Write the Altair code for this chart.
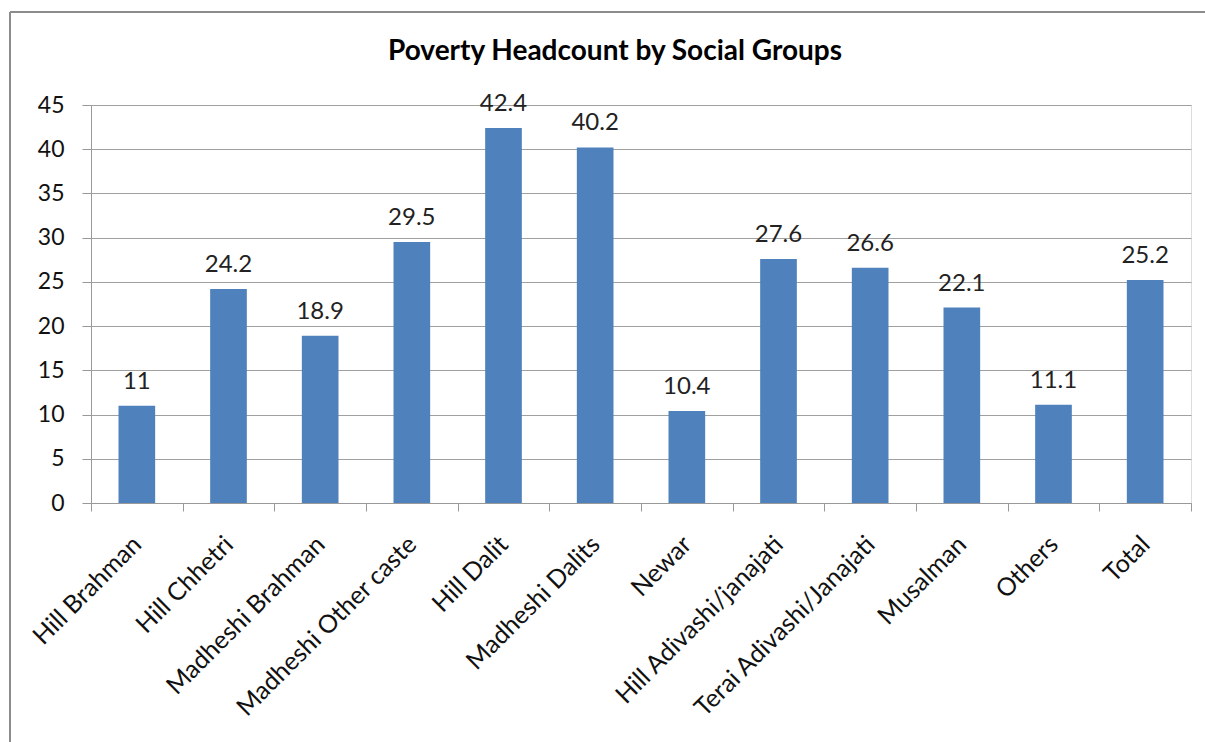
import altair as alt
import pandas as pd

groups = ["Hill Brahman", "Hill Chhetri", "Madheshi Brahman", "Madheshi Other caste",
          "Hill Dalit", "Madheshi Dalits", "Newar", "Hill Adivashi/janajati",
          "Terai Adivashi/Janajati", "Musalman", "Others", "Total"]
values = [11, 24.2, 18.9, 29.5, 42.4, 40.2, 10.4, 27.6, 26.6, 22.1, 11.1, 25.2]
value_labels = ["11", "24.2", "18.9", "29.5", "42.4", "40.2", "10.4", "27.6", "26.6", "22.1", "11.1", "25.2"]
y_ticks = [0, 5, 10, 15, 20, 25, 30, 35, 40, 45]

df = pd.DataFrame({"group": groups, "value": values, "label": value_labels})

FONT = "Lato"
W, H = 1100, 398

x_enc = alt.X("group:N", sort=groups, title=None,
              scale=alt.Scale(paddingInner=0, paddingOuter=0),
              axis=alt.Axis(labelAngle=315, labelAlign="right", labelBaseline="middle",
                            labelFontSize=25, labelFont=FONT, labelColor="#111111",
                            labelPadding=29, labelLimit=0, tickBand="extent", tickSize=8,
                            tickColor="#999999", domainColor="#999999", grid=False))
y_enc = alt.Y("value:Q", title=None,
              scale=alt.Scale(domain=[0, 45], nice=False),
              axis=alt.Axis(values=y_ticks, labelFontSize=23, labelFont=FONT,
                            labelColor="#111111", labelPadding=18, tickSize=9,
                            tickColor="#999999", domainColor="#999999",
                            gridColor="#a0a0a0", gridWidth=1.2))

base = alt.Chart(df)
bars = base.mark_bar(color="#4F81BD", width=alt.RelativeBandSize(0.4)).encode(x=x_enc, y=y_enc)
texts = base.mark_text(font=FONT, fontSize=24, color="#222222", baseline="alphabetic", dy=-17).encode(
    x=alt.X("group:N", sort=groups), y="value:Q", text="label:N")

frame_src = alt.Data(values=[{"k": 1}])
frame_left = alt.Chart(frame_src).mark_rule(color="#8c8c8c", strokeWidth=2).encode(
    x=alt.value(-81), y=alt.value(-93), y2=alt.value(640))
frame_top = alt.Chart(frame_src).mark_rule(color="#8c8c8c", strokeWidth=2).encode(
    x=alt.value(-81), x2=alt.value(1120), y=alt.value(-93))

chart = alt.layer(bars, texts, frame_left, frame_top).properties(
    width=W, height=H,
    title=alt.TitleParams("Poverty Headcount by Social Groups", font=FONT, fontSize=28,
                          fontWeight="bold", color="#000000", anchor="middle",
                          baseline="alphabetic", dx=-26, offset=-77),
    autosize=alt.AutoSizeParams(type="none"),
    padding={"left": 91, "top": 105, "right": 14, "bottom": 239},
).configure_view(stroke=None).configure(background="white")

chart.save("out.html", embed_options={"renderer": "svg", "actions": False})
